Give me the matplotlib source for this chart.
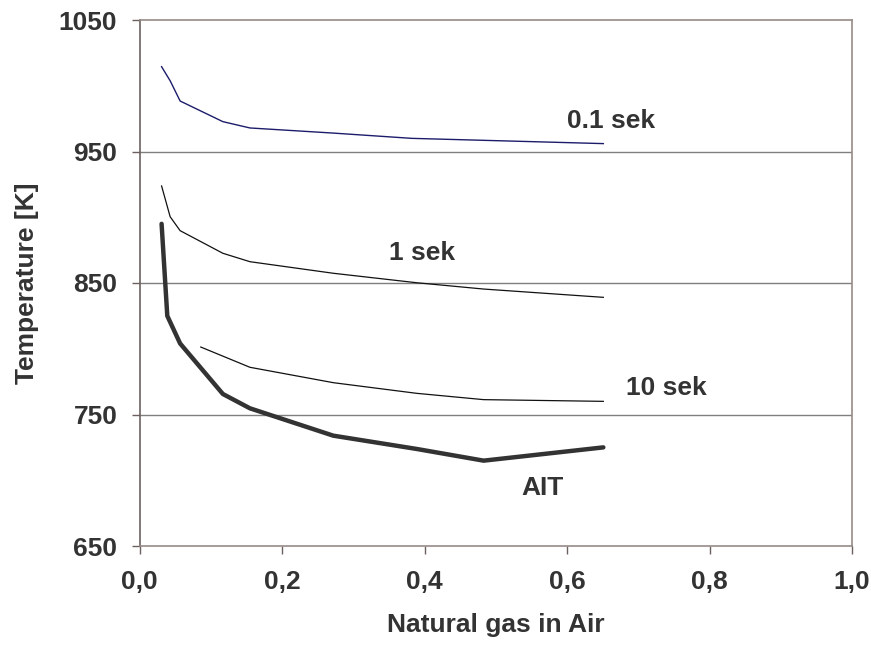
import matplotlib
matplotlib.use('Agg')
import matplotlib.pyplot as plt
from matplotlib.ticker import FuncFormatter

# values
x_01 = [0.031, 0.043, 0.057, 0.117, 0.155, 0.272, 0.382, 0.483, 0.651]
t_01 = [1014.5, 1003.8, 988.4, 972.7, 967.9, 964.0, 960.0, 958.5, 956.0]

x_1 = [0.031, 0.043, 0.057, 0.117, 0.155, 0.272, 0.389, 0.483, 0.651]
t_1 = [923.8, 900.4, 889.8, 872.6, 866.2, 857.4, 850.2, 845.4, 839.1]

x_10 = [0.086, 0.155, 0.272, 0.389, 0.483, 0.651]
t_10 = [801.3, 785.9, 774.2, 766.1, 761.3, 760.0]

x_ait = [0.031, 0.039, 0.057, 0.117, 0.155, 0.272, 0.389, 0.483, 0.651]
t_ait = [895.0, 825.0, 804.0, 765.6, 754.7, 733.9, 723.8, 714.9, 725.0]

labels = ['0.1 sek', '1 sek', '10 sek', 'AIT']
label_pos = [(0.662, 973), (0.396, 873), (0.740, 770), (0.566, 694)]

plt.rcParams['font.family'] = ['Liberation Sans', 'DejaVu Sans']
plt.rcParams['font.weight'] = 'bold'
plt.rcParams['font.size'] = 19
txt = '#333333'

fig = plt.figure(figsize=(8.71, 6.55), dpi=100)
ax = fig.add_axes([139.5/871, 1-546/655, (852-139.5)/871, (546-20)/655])

for g in [750, 850, 950]:
    ax.axhline(g, color='#7f7f7f', lw=1.0, zorder=1)

ax.plot(x_01, t_01, color='#1c1c6b', lw=1.0, zorder=3)
ax.plot(x_1, t_1, color='#111111', lw=0.9, zorder=3)
ax.plot(x_10, t_10, color='#111111', lw=0.9, zorder=3)
ax.plot(x_ait, t_ait, color='#333333', lw=3.2, solid_capstyle='round', zorder=4)

for lab, (lx, ly) in zip(labels, label_pos):
    ax.text(lx, ly, lab, ha='center', va='center', color=txt, fontweight='bold', fontsize=19)

ax.set_xlim(0, 1)
ax.set_ylim(650, 1050)
ax.set_xticks([0, 0.2, 0.4, 0.6, 0.8, 1.0])
ax.set_yticks([650, 750, 850, 950, 1050])
ax.xaxis.set_major_formatter(FuncFormatter(lambda v, p: f'{v:.1f}'.replace('.', ',')))

for s in ['top', 'right', 'bottom']:
    ax.spines[s].set_color('#968a86')
    ax.spines[s].set_linewidth(1.2)
ax.spines['left'].set_color('#6b6260')
ax.spines['left'].set_linewidth(1.2)

ax.tick_params(axis='both', direction='out', length=6, width=1.0, color='#6b6260',
               labelcolor=txt, labelsize=19)
ax.tick_params(axis='x', pad=11)
ax.tick_params(axis='y', pad=10)

ax.set_xlabel('Natural gas in Air', color=txt, fontweight='bold', fontsize=19, labelpad=14)
ax.set_ylabel('Temperature [K]', color=txt, fontweight='bold', fontsize=19, labelpad=14)

fig.savefig('out.png', dpi=100)
